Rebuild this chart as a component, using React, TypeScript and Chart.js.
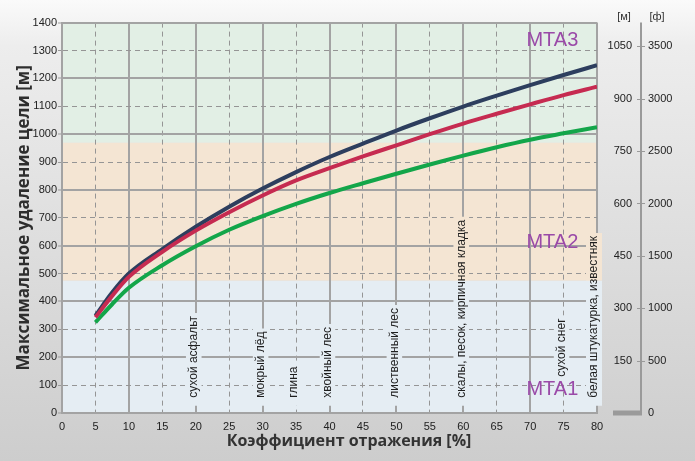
import React, { useEffect, useRef } from 'react';
import { Chart, registerables } from 'chart.js';

Chart.register(...registerables);

// ---------- data ----------
const reflectivity = [5, 7.5, 10, 15, 20, 25, 30, 35, 40, 45, 50, 55, 60, 65, 70, 75, 80];
const rangeNavy = [349, 432, 500, 588, 668, 740, 805, 864, 918, 966, 1013, 1057, 1099, 1138, 1176, 1212, 1247];
const rangeRed = [343, 420, 488, 578, 654, 720, 780, 834, 878, 920, 960, 1000, 1038, 1073, 1107, 1140, 1170];
const rangeGreen = [325, 390, 449, 530, 598, 657, 706, 750, 789, 824, 858, 891, 923, 953, 980, 1003, 1025];

const rightMetres = [0, 150, 300, 450, 600, 750, 900, 1050];
const rightFeet = ['0', '500', '1000', '1500', '2000', '2500', '3000', '3500'];

const materialX = [20, 30, 35, 40, 50, 60, 75, 80];
const materialLabels = [
  'сухой асфальт',
  'мокрый лёд',
  'глина',
  'хвойный лес',
  'лиственный лес',
  'скалы, песок, кирпичная кладка',
  'сухой снег',
  'белая штукатурка, известняк',
];

const zoneLimits = [0, 475, 970, 1400];
const zoneLabels = ['MTA1', 'MTA2', 'MTA3'];

// ---------- styles ----------
const FONT_NARROW = "'Liberation Sans Narrow', 'Arial Narrow', 'Liberation Sans', Arial, sans-serif";
const FONT_TEXT = "'Liberation Sans', Arial, sans-serif";
const FONT_BOLD = "'Open Sans', 'Noto Sans', sans-serif";
const zoneColors = ['#e5edf3', '#f4e5d3', '#e2efe5'];
const zoneLabelValues = [84, 610, 1335];
const SOLID = '#a3a3a3';
const DASHED = '#959595';
const RIGHT_AXIS = '#9a9a9a';

function drawZones(chart: any, x0: number, x1: number) {
  const { ctx, scales } = chart;
  const y = scales.y;
  for (let i = 0; i < zoneColors.length; i++) {
    const top = y.getPixelForValue(zoneLimits[i + 1]);
    const bottom = y.getPixelForValue(zoneLimits[i]);
    ctx.fillStyle = zoneColors[i];
    ctx.fillRect(x0, top, x1 - x0, bottom - top);
  }
}

const decor = {
  id: 'decor',
  beforeDraw(chart: any) {
    const { ctx, width, height, chartArea: ca } = chart;
    ctx.save();
    const g = ctx.createLinearGradient(0, 0, 0, height);
    g.addColorStop(0, '#fafafa');
    g.addColorStop(0.1, '#ededed');
    g.addColorStop(1, '#cdcdcd');
    ctx.fillStyle = g;
    ctx.fillRect(0, 0, width, height);
    drawZones(chart, ca.left, ca.right);
    ctx.restore();
  },
  beforeDatasetsDraw(chart: any) {
    const { ctx, scales } = chart;
    const x = scales.x;
    const y = scales.y;
    ctx.save();
    ctx.font = `12px ${FONT_TEXT}`;
    materialX.forEach((v, i) => {
      const text = materialLabels[i];
      const w = ctx.measureText(text).width;
      const cx = x.getPixelForValue(v) - (i === materialX.length - 1 ? 3 : 2);
      const bottom = y.getPixelForValue(i === 6 ? 130 : 55);
      ctx.save();
      ctx.beginPath();
      ctx.rect(cx - 8, bottom - w - 3, 16, w + 11);
      ctx.clip();
      drawZones(chart, cx - 8, cx + 8);
      ctx.restore();
      ctx.save();
      ctx.translate(cx, bottom);
      ctx.rotate(-Math.PI / 2);
      ctx.fillStyle = '#1e1e1e';
      ctx.textAlign = 'left';
      ctx.textBaseline = 'middle';
      ctx.fillText(text, 0, 0);
      ctx.restore();
    });
    ctx.restore();
  },
  afterDraw(chart: any) {
    const { ctx, scales, chartArea: ca } = chart;
    const x = scales.x;
    const y = scales.y;
    const yF = scales.yF;
    ctx.save();
    // zone labels
    ctx.font = `20px ${FONT_TEXT}`;
    ctx.fillStyle = '#9a4aa8';
    ctx.textAlign = 'right';
    ctx.textBaseline = 'middle';
    zoneLabels.forEach((t, i) => {
      ctx.fillText(t, x.getPixelForValue(77.2), y.getPixelForValue(zoneLabelValues[i]));
    });
    // x title
    ctx.font = `bold 16px ${FONT_BOLD}`;
    ctx.fillStyle = '#333';
    ctx.textAlign = 'center';
    ctx.fillText('Коэффициент отражения [%]', 349, 441);
    // right axis line and crossing tick marks
    const axisX = yF.left + 9;
    ctx.strokeStyle = RIGHT_AXIS;
    ctx.lineWidth = 2;
    ctx.beginPath();
    ctx.moveTo(axisX, ca.top);
    ctx.lineTo(axisX, ca.bottom);
    ctx.stroke();
    ctx.lineWidth = 1;
    rightMetres.forEach((v) => {
      if (v === 0) return;
      const py = Math.round(yF.getPixelForValue(v)) + 0.5;
      ctx.beginPath();
      ctx.moveTo(axisX - 4, py);
      ctx.lineTo(axisX + 4, py);
      ctx.stroke();
    });
    // bar at zero
    const y0 = yF.getPixelForValue(0);
    ctx.fillStyle = RIGHT_AXIS;
    ctx.fillRect(axisX - 28, y0 - 2.5, 29, 5);
    // units
    ctx.font = `11px ${FONT_NARROW}`;
    ctx.fillStyle = '#333';
    ctx.textAlign = 'center';
    ctx.fillText('[м]', 624, 17);
    ctx.fillText('[ф]', 657, 17);
    ctx.restore();
  },
};

const tickFont = { family: FONT_NARROW, size: 11 };

export default function App() {
  const ref = useRef<HTMLCanvasElement>(null);
  useEffect(() => {
    document.body.style.margin = '0';
    const mk = (arr: number[]) => reflectivity.map((r, i) => ({ x: r, y: arr[i] }));
    const chart = new Chart(ref.current!, {
      type: 'line',
      data: {
        datasets: [
          { label: 'navy', data: mk(rangeNavy), borderColor: '#2d3e5e', order: 1 },
          { label: 'red', data: mk(rangeRed), borderColor: '#c62b51', order: 0 },
          { label: 'green', data: mk(rangeGreen), borderColor: '#13a64a', order: 2 },
        ].map((d) => ({
          ...d,
          borderWidth: 4,
          pointRadius: 0,
          fill: false,
          cubicInterpolationMode: 'monotone' as const,
        })),
      },
      options: {
        animation: false,
        responsive: false,
        devicePixelRatio: 1,
        layout: { padding: { top: 22, left: 0, right: 0, bottom: 0 } },
        plugins: { legend: { display: false }, tooltip: { enabled: false } },
        scales: {
          x: {
            type: 'linear',
            min: 0,
            max: 80,
            afterFit: (s: any) => {
              s.height = 48;
            },
            ticks: {
              stepSize: 5,
              font: tickFont,
              color: '#222',
              padding: 7,
              autoSkip: false,
              maxRotation: 0,
              callback: (v: any) => String(v),
            },
            grid: {
              color: (c: any) => (c.tick && c.tick.value % 10 === 0 ? SOLID : DASHED),
              lineWidth: (c: any) => (c.tick && c.tick.value % 10 === 0 ? 2 : 1),
              drawTicks: false,
            },
            border: {
              display: true,
              color: SOLID,
              width: 2,
              dash: (c: any) => (c.tick && c.tick.value % 10 !== 0 ? [5, 4] : []),
            },
          },
          y: {
            type: 'linear',
            position: 'left',
            min: 0,
            max: 1400,
            afterFit: (s: any) => {
              s.width = 62;
            },
            ticks: {
              stepSize: 100,
              font: tickFont,
              color: '#222',
              padding: 1,
              autoSkip: false,
              callback: (v: any) => String(v),
            },
            grid: {
              color: (c: any) => (c.tick && c.tick.value % 200 === 0 ? SOLID : DASHED),
              lineWidth: (c: any) => (c.tick && c.tick.value % 200 === 0 ? 2 : 1),
              drawTicks: true,
              tickLength: 4,
              tickColor: '#999',
              tickWidth: 1,
            },
            border: {
              display: true,
              color: SOLID,
              width: 2,
              dash: (c: any) => (c.tick && c.tick.value % 200 !== 0 ? [5, 4] : []),
            },
            title: {
              display: true,
              text: 'Максимальное удаление цели [м]',
              font: { family: FONT_BOLD, size: 17, weight: 'bold' },
              color: '#2e2e2e',
              padding: { top: 14, bottom: 0 },
            },
          },
          yM: {
            type: 'linear',
            position: 'right',
            weight: 0,
            min: 0,
            max: 1118,
            afterBuildTicks: (s: any) => {
              s.ticks = rightMetres.map((v) => ({ value: v }));
            },
            afterFit: (s: any) => {
              s.width = 35;
            },
            grid: { drawOnChartArea: false, drawTicks: false },
            border: { display: false },
            ticks: {
              crossAlign: 'far',
              padding: 4,
              font: tickFont,
              color: '#222',
              autoSkip: false,
              callback: (v: any) => (Number(v) === 0 ? '' : String(v)),
            },
          },
          yF: {
            type: 'linear',
            position: 'right',
            weight: 1,
            min: 0,
            max: 1118,
            afterBuildTicks: (s: any) => {
              s.ticks = rightMetres.map((v) => ({ value: v }));
            },
            afterFit: (s: any) => {
              s.width = 63;
            },
            grid: { drawOnChartArea: false, drawTicks: false },
            border: { display: false },
            ticks: {
              padding: 16,
              font: tickFont,
              color: '#222',
              autoSkip: false,
              callback: (_v: any, i: number) => rightFeet[i],
            },
          },
        },
      } as any,
      plugins: [decor],
    });
    return () => chart.destroy();
  }, []);
  return (
    <div style={{ position: 'fixed', left: 0, top: 0, width: 695, height: 461 }}>
      <canvas ref={ref} width={695} height={461} style={{ display: 'block' }} />
    </div>
  );
}
